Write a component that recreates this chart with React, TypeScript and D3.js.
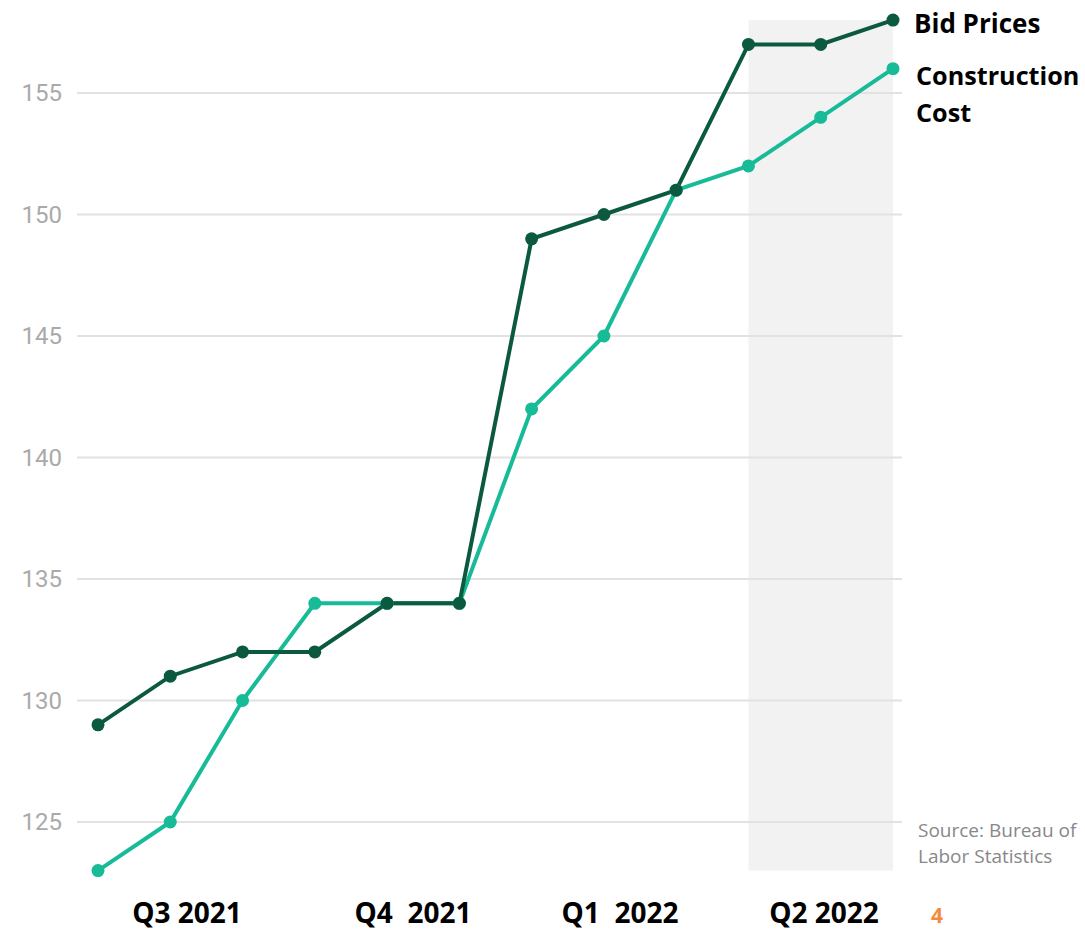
import React from "react";
import * as d3 from "d3";

const periods = ["P1","P2","P3","P4","P5","P6","P7","P8","P9","P10","P11","P12"];
const bidPrices = [129,131,132,132,134,134,149,150,151,157,157,158];
const constructionCost = [123,125,130,134,134,134,142,145,151,152,154,156];
const yTicks = [125,130,135,140,145,150,155];
const quarterLabels = [
  { text: "Q3 2021", x: 187 },
  { text: "Q4\u00a0 2021", x: 413 },
  { text: "Q1\u00a0 2022", x: 620 },
  { text: "Q2 2022", x: 824 },
];

const W = 1085, H = 931;

export default function App() {
  const x = d3.scalePoint<string>().domain(periods).range([98, 893]);
  const y = d3.scaleLinear().domain([125, 155]).range([822, 93]);
  const line = d3.line<number>().x((_, i) => x(periods[i])!).y((d) => y(d));
  const dark = "#0b5a40";
  const teal = "#17bb97";
  const shadeX0 = x(periods[9])!;
  const shadeX1 = x(periods[11])!;
  return (
    <svg width={W} height={H} style={{ position: "absolute", left: 0, top: 0, background: "#fff" }}>
      <rect x={shadeX0} y={y(158)} width={shadeX1 - shadeX0} height={y(123) - y(158)} fill="#f2f2f2" />
      {yTicks.map((t) => (
        <g key={t}>
          <line x1={77} x2={902} y1={y(t)} y2={y(t)} stroke="#e2e2e2" strokeWidth={2} />
          <text x={62} y={y(t)} dy="0.35em" textAnchor="end" fontFamily="Roboto" fontSize={24} fill="#aaaaaa">{t}</text>
        </g>
      ))}
      <path d={line(constructionCost)!} fill="none" stroke={teal} strokeWidth={4} />
      <path d={line(bidPrices)!} fill="none" stroke={dark} strokeWidth={4} />
      {constructionCost.map((v, i) => (
        <circle key={"c" + i} cx={x(periods[i])} cy={y(v)} r={6.5} fill={teal} />
      ))}
      {bidPrices.map((v, i) => (
        <circle key={"b" + i} cx={x(periods[i])} cy={y(v)} r={6.5} fill={dark} />
      ))}
      <g fontFamily="'Open Sans', sans-serif" fontWeight="bold" fill="#000">
        <text x={914} y={33} fontSize={26}>Bid Prices</text>
        <text x={916} y={85} fontSize={25.2}>Construction</text>
        <text x={916} y={122} fontSize={25.2}>Cost</text>
        {quarterLabels.map((q) => (
          <text key={q.text} x={q.x} y={923} fontSize={28} textAnchor="middle">{q.text}</text>
        ))}
      </g>
      <text x={918} y={837} fontFamily="'Open Sans', sans-serif" fontSize={19} fill="#888">Source: Bureau of</text>
      <text x={918} y={863} fontFamily="'Open Sans', sans-serif" fontSize={19} fill="#888">Labor Statistics</text>
      <text x={931} y={923} fontFamily="'Open Sans', sans-serif" fontSize={21} fontWeight="bold" fill="#f58a3c">4</text>
    </svg>
  );
}
